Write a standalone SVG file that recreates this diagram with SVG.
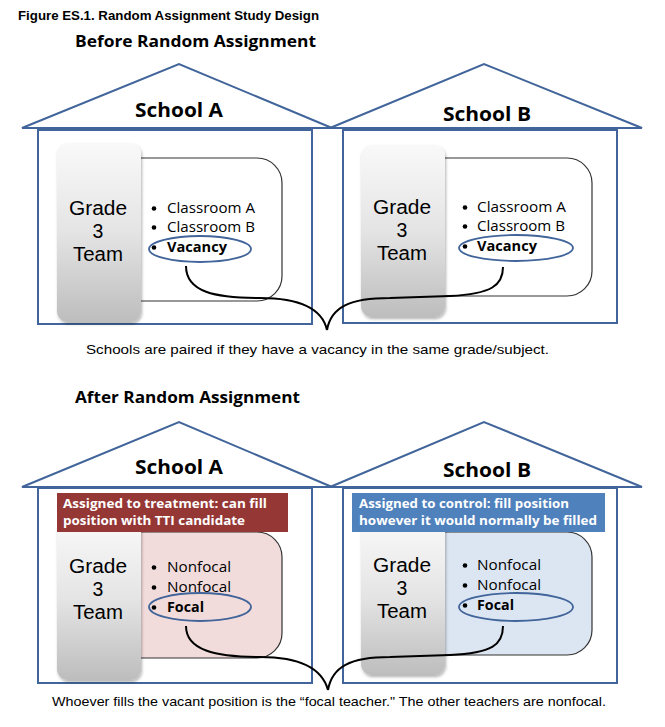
<svg xmlns="http://www.w3.org/2000/svg" width="665" height="727" viewBox="0 0 665 727">
<defs>
<linearGradient id="gb" x1="0" y1="0" x2="0" y2="1">
<stop offset="0" stop-color="#f9f9f9"/>
<stop offset="0.5" stop-color="#e4e4e4"/>
<stop offset="1" stop-color="#bdbdbd"/>
</linearGradient>
<filter id="sh" x="-20%" y="-10%" width="140%" height="120%">
<feDropShadow dx="1" dy="2" stdDeviation="1.5" flood-color="#000" flood-opacity="0.3"/>
</filter>
</defs>
<style>
.roof{fill:#fff;stroke:#41659a;stroke-width:2;stroke-linejoin:miter}
.body{fill:#fff;stroke:#41659a;stroke-width:2}
.grade{fill:url(#gb);filter:url(#sh)}
.list{fill:#fff;stroke:#333;stroke-width:1.2}
.ell{fill:none;stroke:#41659a;stroke-width:1.8}
.dot{fill:#000}
.cal{font-family:"Open Sans","Noto Sans",sans-serif;fill:#000}
.school{font-size:19px;font-weight:bold;text-anchor:middle}
.gt{font-family:"Liberation Sans",Arial,sans-serif;fill:#000;font-size:19.5px;text-anchor:middle}
.li{font-size:14px}
.bt{font-size:13px;font-weight:bold;fill:#fff}
.ar{font-family:"Liberation Sans",Arial,sans-serif;fill:#000}
.con{fill:none;stroke:#000;stroke-width:2}
</style>
<rect width="665" height="727" fill="#fff"/>
<text class="ar" x="18" y="20" font-size="12.5" font-weight="bold" textLength="301" lengthAdjust="spacingAndGlyphs">Figure ES.1. Random Assignment Study Design</text>
<text class="cal" x="75" y="47" font-size="16" font-weight="bold" textLength="241" lengthAdjust="spacingAndGlyphs">Before Random Assignment</text>

<g id="schoolA-before">
<polygon class="roof" points="22,128 179,64 332,128"/>
<rect class="body" x="38" y="130" width="274" height="194"/>
<text class="cal school" x="179" y="117" textLength="88" lengthAdjust="spacingAndGlyphs">School A</text>
<path class="list" d="M141,158 H257 A25,25 0 0 1 282,183 V276 A25,25 0 0 1 257,301 H141"/>
<rect class="grade" x="57" y="143" width="84" height="179" rx="11"/>
<text class="gt" x="98" y="215" textLength="58" lengthAdjust="spacingAndGlyphs">Grade</text>
<text class="gt" x="98" y="238">3</text>
<text class="gt" x="98" y="261" textLength="50" lengthAdjust="spacingAndGlyphs">Team</text>
<circle class="dot" cx="154" cy="208.5" r="2.3"/>
<text class="cal li" x="167" y="213" textLength="88" lengthAdjust="spacingAndGlyphs">Classroom A</text>
<circle class="dot" cx="154" cy="227.5" r="2.3"/>
<text class="cal li" x="167" y="232" textLength="88" lengthAdjust="spacingAndGlyphs">Classroom B</text>
<circle class="dot" cx="154" cy="247.5" r="2.3"/>
<text class="cal li" x="167" y="252" font-weight="bold" textLength="60" lengthAdjust="spacingAndGlyphs">Vacancy</text>
<ellipse class="ell" cx="200" cy="249" rx="51" ry="13"/>
</g>

<g id="schoolB-before">
<polygon class="roof" points="330,128 484,64 642,128"/>
<rect class="body" x="343" y="130" width="274" height="193"/>
<text class="cal school" x="487" y="121" textLength="88" lengthAdjust="spacingAndGlyphs">School B</text>
<path class="list" d="M445,158 H567 A25,25 0 0 1 592,183 V271 A25,25 0 0 1 567,296 H445"/>
<rect class="grade" x="361" y="145" width="84" height="172" rx="11"/>
<text class="gt" x="402" y="214" textLength="58" lengthAdjust="spacingAndGlyphs">Grade</text>
<text class="gt" x="402" y="237">3</text>
<text class="gt" x="402" y="260" textLength="50" lengthAdjust="spacingAndGlyphs">Team</text>
<circle class="dot" cx="465" cy="207.5" r="2.3"/>
<text class="cal li" x="477" y="212" textLength="89" lengthAdjust="spacingAndGlyphs">Classroom A</text>
<circle class="dot" cx="465" cy="226.5" r="2.3"/>
<text class="cal li" x="477" y="231" textLength="88" lengthAdjust="spacingAndGlyphs">Classroom B</text>
<circle class="dot" cx="465" cy="246.5" r="2.3"/>
<text class="cal li" x="477" y="251" font-weight="bold" textLength="60" lengthAdjust="spacingAndGlyphs">Vacancy</text>
<ellipse class="ell" cx="516" cy="248" rx="57" ry="13"/>
</g>

<text class="ar" x="86" y="354" font-size="13" textLength="463" lengthAdjust="spacingAndGlyphs">Schools are paired if they have a vacancy in the same grade/subject.</text>

<text class="cal" x="75" y="403" font-size="16" font-weight="bold" textLength="225" lengthAdjust="spacingAndGlyphs">After Random Assignment</text>

<g id="schoolA-after">
<polygon class="roof" points="22,487 179,422 332,487"/>
<rect class="body" x="38" y="488" width="274" height="195"/>
<text class="cal school" x="179" y="474" textLength="88" lengthAdjust="spacingAndGlyphs">School A</text>
<path class="list" d="M141,532 H257 A25,25 0 0 1 282,557 V633 A25,25 0 0 1 257,658 H141" style="fill:#f2dcdb"/>
<rect class="grade" x="57" y="520" width="84" height="160" rx="11"/>
<rect x="57" y="493" width="231" height="39" fill="#953735"/>
<text class="cal bt" x="63" y="508" textLength="204" lengthAdjust="spacingAndGlyphs">Assigned to treatment: can fill</text>
<text class="cal bt" x="63" y="525" textLength="182" lengthAdjust="spacingAndGlyphs">position with TTI candidate</text>
<text class="gt" x="98" y="573" textLength="58" lengthAdjust="spacingAndGlyphs">Grade</text>
<text class="gt" x="98" y="596">3</text>
<text class="gt" x="98" y="619" textLength="50" lengthAdjust="spacingAndGlyphs">Team</text>
<circle class="dot" cx="154" cy="567.5" r="2.3"/>
<text class="cal li" x="167" y="572" textLength="64" lengthAdjust="spacingAndGlyphs">Nonfocal</text>
<circle class="dot" cx="154" cy="587.5" r="2.3"/>
<text class="cal li" x="167" y="592" textLength="64" lengthAdjust="spacingAndGlyphs">Nonfocal</text>
<circle class="dot" cx="154" cy="607.5" r="2.3"/>
<text class="cal li" x="167" y="612" font-weight="bold" textLength="37" lengthAdjust="spacingAndGlyphs">Focal</text>
<ellipse class="ell" cx="200" cy="607" rx="51" ry="14"/>
</g>

<g id="schoolB-after">
<polygon class="roof" points="330,487 484,422 642,487"/>
<rect class="body" x="343" y="488" width="274" height="195"/>
<text class="cal school" x="487" y="477" textLength="88" lengthAdjust="spacingAndGlyphs">School B</text>
<path class="list" d="M445,532 H567 A25,25 0 0 1 592,557 V630 A25,25 0 0 1 567,655 H445" style="fill:#dce6f2"/>
<rect class="grade" x="361" y="520" width="84" height="155" rx="11"/>
<rect x="352" y="493" width="253" height="39" fill="#4f81bd"/>
<text class="cal bt" x="359" y="508" textLength="210" lengthAdjust="spacingAndGlyphs">Assigned to control: fill position</text>
<text class="cal bt" x="359" y="525" textLength="238" lengthAdjust="spacingAndGlyphs">however it would normally be filled</text>
<text class="gt" x="402" y="572" textLength="58" lengthAdjust="spacingAndGlyphs">Grade</text>
<text class="gt" x="402" y="595">3</text>
<text class="gt" x="402" y="618" textLength="50" lengthAdjust="spacingAndGlyphs">Team</text>
<circle class="dot" cx="465" cy="565.5" r="2.3"/>
<text class="cal li" x="477" y="570" textLength="64" lengthAdjust="spacingAndGlyphs">Nonfocal</text>
<circle class="dot" cx="465" cy="585.5" r="2.3"/>
<text class="cal li" x="477" y="590" textLength="64" lengthAdjust="spacingAndGlyphs">Nonfocal</text>
<circle class="dot" cx="465" cy="605.5" r="2.3"/>
<text class="cal li" x="477" y="610" font-weight="bold" textLength="37" lengthAdjust="spacingAndGlyphs">Focal</text>
<ellipse class="ell" cx="516" cy="607" rx="57" ry="14"/>
</g>

<g id="connectors">
<path class="con" d="M186,266 C186,292 215,298 260,298 C300,298 322,308 327,330"/>
<path class="con" d="M327,330 C331,307 350,298 390,298 L450,296 C492,294 503,285 503,267"/>
<path class="con" d="M186,626 C186,650 215,657 260,657 C300,657 322,668 328,690"/>
<path class="con" d="M328,690 C332,667 350,657 390,657 L450,655 C492,653 503,645 503,626"/>
</g>

<text class="ar" x="52" y="706" font-size="13" textLength="554" lengthAdjust="spacingAndGlyphs">Whoever fills the vacant position is the “focal teacher." The other teachers are nonfocal.</text>
</svg>
